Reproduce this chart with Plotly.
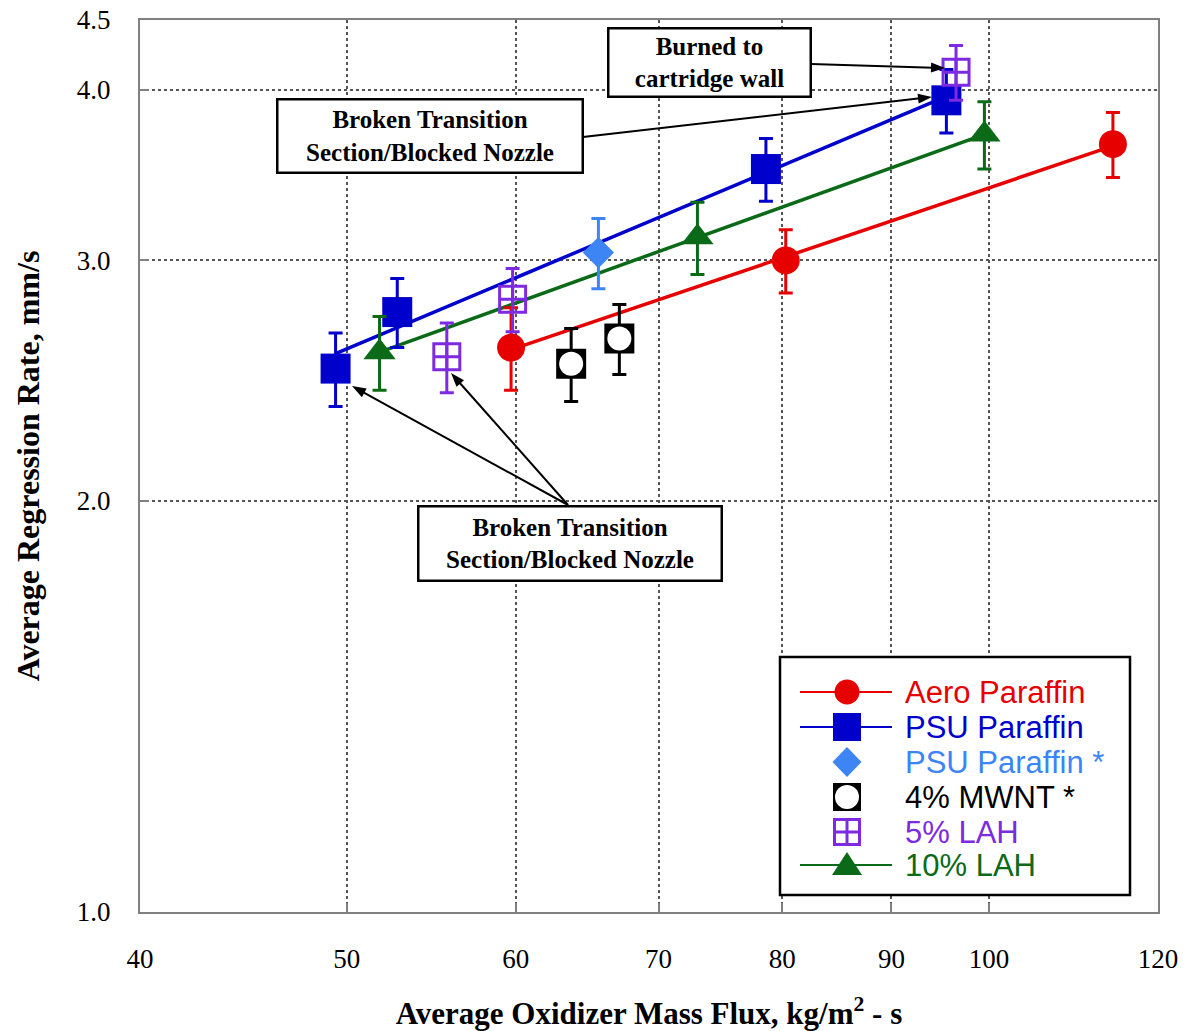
import math
import numpy as np
import plotly.graph_objects as go

# ---------------- data ----------------
aero_x = [59.7, 80.3, 114.3]
aero_y = [2.59, 3.00, 3.65]
aero_err = [0.18, 0.16, 0.20]

psu_x = [49.4, 52.8, 78.6, 95.5]
psu_y = [2.50, 2.75, 3.50, 3.93]
psu_err = [0.155, 0.16, 0.185, 0.21]

psu_star_x = [65.6]
psu_star_y = [3.04]
psu_star_err = [0.18]

mwnt_x = [63.7, 67.1]
mwnt_y = [2.52, 2.63]
mwnt_err = [0.155, 0.155]

lah5_x = [55.7, 59.8, 96.5]
lah5_y = [2.55, 2.81, 4.12]
lah5_err = [0.15, 0.15, 0.19]

lah10_x = [51.8, 73.0, 99.5]
lah10_y = [2.57, 3.12, 3.71]
lah10_err = [0.16, 0.19, 0.21]

series_names = ["Aero Paraffin", "PSU Paraffin", "PSU Paraffin *", "4% MWNT *", "5% LAH", "10% LAH"]

x_ticks = [40, 50, 60, 70, 80, 90, 100, 120]
x_ticktext = ["40", "50", "60", "70", "80", "90", "100", "120"]
y_ticks = [1.0, 2.0, 3.0, 4.0, 4.5]
y_ticktext = ["1.0", "2.0", "3.0", "4.0", "4.5"]

# ---------------- styles ----------------
RED = "#e60000"
BLUE = "#0000cc"
LBLUE = "#3d85f5"
PURPLE = "#7d2ae0"
GREEN = "#0b6a18"
BLACK = "#000000"

SERIF = "Times New Roman, Liberation Serif, serif"
SANS = "Arial, Liberation Sans, sans-serif"

# plot-area geometry (px) used to place the annotation boxes / legend key
PL, PT, PW, PH = 140, 20, 1018, 892


def paper(px, py):
    return (px - PL) / PW, (PT + PH - py) / PH


def power_fit(xs, ys):
    """Least-squares power-law fit (straight line in log-log space)."""
    b, a = np.polyfit(np.log(xs), np.log(ys), 1)
    xf = np.array([min(xs), max(xs)])
    return xf, np.exp(a + b * np.log(xf))


def err(arr, col):
    return dict(type="data", array=arr, color=col, thickness=3, width=7, visible=True)


fig = go.Figure()

# fit lines (drawn first, under markers)
for xs, ys, col in [(aero_x, aero_y, RED), (psu_x, psu_y, BLUE), (lah10_x, lah10_y, GREEN)]:
    fx, fy = power_fit(xs, ys)
    fig.add_trace(go.Scatter(x=fx, y=fy, mode="lines", line=dict(color=col, width=3.5),
                             showlegend=False, hoverinfo="skip"))

fig.add_trace(go.Scatter(x=aero_x, y=aero_y, error_y=err(aero_err, RED), mode="markers",
                         marker=dict(symbol="circle", size=28, color=RED), name=series_names[0]))
fig.add_trace(go.Scatter(x=psu_x, y=psu_y, error_y=err(psu_err, BLUE), mode="markers",
                         marker=dict(symbol="square", size=30, color=BLUE), name=series_names[1]))
fig.add_trace(go.Scatter(x=psu_star_x, y=psu_star_y, error_y=err(psu_star_err, LBLUE), mode="markers",
                         marker=dict(symbol="diamond", size=24, color=LBLUE), name=series_names[2]))
fig.add_trace(go.Scatter(x=mwnt_x, y=mwnt_y, error_y=err(mwnt_err, BLACK), mode="markers",
                         marker=dict(symbol="square", size=22, color="white",
                                     line=dict(color=BLACK, width=8)), name=series_names[3]))
fig.add_trace(go.Scatter(x=mwnt_x, y=mwnt_y, mode="markers",
                         marker=dict(symbol="circle", size=24, color="white"),
                         showlegend=False, hoverinfo="skip"))
fig.add_trace(go.Scatter(x=lah5_x, y=lah5_y, error_y=err(lah5_err, PURPLE), mode="markers",
                         marker=dict(symbol="square-cross-open", size=26, color=PURPLE,
                                     line=dict(color=PURPLE, width=3)), name=series_names[4]))
fig.add_trace(go.Scatter(x=lah10_x, y=lah10_y, error_y=err(lah10_err, GREEN), mode="markers",
                         marker=dict(symbol="triangle-up", size=28, color=GREEN), name=series_names[5]))

# ---------------- legend key (boxed, like the original) ----------------
shapes = []
annotations = []


def rect_px(x0, y0, x1, y1, fill, line_col=None, lw=0):
    a = paper(x0, y1)
    b = paper(x1, y0)
    return dict(type="rect", xref="paper", yref="paper", x0=a[0], y0=a[1], x1=b[0], y1=b[1],
                fillcolor=fill, line=dict(color=line_col or fill, width=lw), layer="above")


def circle_px(cx, cy, d, fill):
    a = paper(cx - d / 2, cy + d / 2)
    b = paper(cx + d / 2, cy - d / 2)
    return dict(type="circle", xref="paper", yref="paper", x0=a[0], y0=a[1], x1=b[0], y1=b[1],
                fillcolor=fill, line=dict(color=fill, width=0), layer="above")


def poly_px(pts, fill):
    pp = [paper(x, y) for x, y in pts]
    path = "M" + " L".join(f"{x},{y}" for x, y in pp) + " Z"
    return dict(type="path", xref="paper", yref="paper", path=path,
                fillcolor=fill, line=dict(color=fill, width=0), layer="above")


def line_px(x0, y0, x1, y1, col, lw):
    a = paper(x0, y0)
    b = paper(x1, y1)
    return dict(type="line", xref="paper", yref="paper", x0=a[0], y0=a[1], x1=b[0], y1=b[1],
                line=dict(color=col, width=lw), layer="above")


def key_marker(kind, cx, cy):
    if kind == "circle":
        return [circle_px(cx, cy, 25, RED)]
    if kind == "square":
        return [rect_px(cx - 14, cy - 14, cx + 14, cy + 14, BLUE)]
    if kind == "diamond":
        return [poly_px([(cx, cy - 15), (cx + 14.5, cy), (cx, cy + 15), (cx - 14.5, cy)], LBLUE)]
    if kind == "mwnt":
        return [rect_px(cx - 14, cy - 14, cx + 14, cy + 14, BLACK), circle_px(cx, cy, 24, "white")]
    if kind == "lah5":
        s = 12.5
        return [rect_px(cx - s, cy - s, cx + s, cy + s, "white", PURPLE, 3),
                line_px(cx - s, cy, cx + s, cy, PURPLE, 3),
                line_px(cx, cy - s, cx, cy + s, PURPLE, 3)]
    if kind == "triangle":
        return [poly_px([(cx - 15, cy + 10), (cx + 15, cy + 10), (cx, cy - 13)], GREEN)]
    return []


leg_box = (780, 657, 1130, 895)
leg_rows = [692, 727, 762, 797, 832, 865]
leg_line = (800, 892)
leg_mark_x = 847
leg_text_x = 903
leg_items = [
    (series_names[0], RED, True, "circle"),
    (series_names[1], BLUE, True, "square"),
    (series_names[2], LBLUE, False, "diamond"),
    (series_names[3], BLACK, False, "mwnt"),
    (series_names[4], PURPLE, False, "lah5"),
    (series_names[5], GREEN, True, "triangle"),
]

shapes.append(rect_px(*leg_box, "white", "black", 2.5))
for (label, col, has_line, kind), ry in zip(leg_items, leg_rows):
    if has_line:
        shapes.append(line_px(leg_line[0], ry, leg_line[1], ry, col, 2))
    shapes += key_marker(kind, leg_mark_x, ry)
    tx, ty = paper(leg_text_x, ry)
    annotations.append(dict(xref="paper", yref="paper", x=tx, y=ty, xanchor="left", yanchor="middle",
                            showarrow=False, text=label, font=dict(family=SANS, size=31, color=col)))


# ---------------- arrows (line + filled head) ----------------
def arrow(tail, tip, head_len=14, head_w=10):
    (tx, ty), (hx, hy) = tail, tip
    dx, dy = hx - tx, hy - ty
    n = math.hypot(dx, dy)
    ux, uy = dx / n, dy / n
    bx, by = hx - ux * head_len, hy - uy * head_len
    nx, ny = -uy, ux
    return [
        line_px(tx, ty, hx - ux * (head_len - 2), hy - uy * (head_len - 2), "black", 2),
        poly_px([(hx, hy), (bx + nx * head_w / 2, by + ny * head_w / 2),
                 (bx - nx * head_w / 2, by - ny * head_w / 2)], "black"),
    ]


shapes += arrow((811, 64), (945, 68))
shapes += arrow((583, 137), (932, 97))
shapes += arrow((568, 505), (352, 386))
shapes += arrow((568, 505), (451, 373))

box_font = dict(family=SERIF, size=25, color="black", weight="bold")
box_kw = dict(xref="paper", yref="paper", xanchor="center", yanchor="middle", showarrow=False,
              bgcolor="white", bordercolor="black", borderwidth=2.5, borderpad=1, font=box_font)
for (cx, cy, w, h, txt) in [
    (709, 63, 198, 64, "Burned to<br>cartridge wall"),
    (429.5, 136.5, 301, 69, "Broken Transition<br>Section/Blocked Nozzle"),
    (569.5, 543, 299, 70, "Broken Transition<br>Section/Blocked Nozzle"),
]:
    px_, py_ = paper(cx, cy)
    annotations.append(dict(x=px_, y=py_, width=w, height=h, text=txt, **box_kw))

# ---------------- axes ----------------
axis_common = dict(
    type="log", showgrid=True, gridcolor="#555555", griddash="dot", gridwidth=1.5,
    showline=True, linecolor="#808080", linewidth=2, mirror=True,
    ticks="inside", ticklen=9, tickcolor="#808080", tickwidth=1.5,
    zeroline=False, tickfont=dict(family=SERIF, size=27, color="black"),
)

fig.update_layout(
    xaxis=dict(**axis_common, range=[np.log10(40), np.log10(120)],
               tickvals=x_ticks, ticktext=x_ticktext, ticklabelstandoff=22,
               title=dict(text="Average Oxidizer Mass Flux, kg/m<sup>2</sup> - s",
                          font=dict(family=SERIF, size=31, color="black", weight="bold"), standoff=32)),
    yaxis=dict(**axis_common, range=[0, np.log10(4.5)],
               tickvals=y_ticks, ticktext=y_ticktext, ticklabelstandoff=22,
               title=dict(text="Average Regression Rate, mm/s",
                          font=dict(family=SERIF, size=32, color="black", weight="bold"), standoff=28)),
    width=1188, height=1031,
    margin=dict(l=PL, r=1188 - PL - PW, t=PT, b=1031 - PT - PH, autoexpand=False),
    paper_bgcolor="white", plot_bgcolor="white",
    annotations=annotations, shapes=shapes,
    showlegend=False,
)

fig.write_html("out.html", config={"displayModeBar": False},
               post_script="document.body.style.margin='0';")
